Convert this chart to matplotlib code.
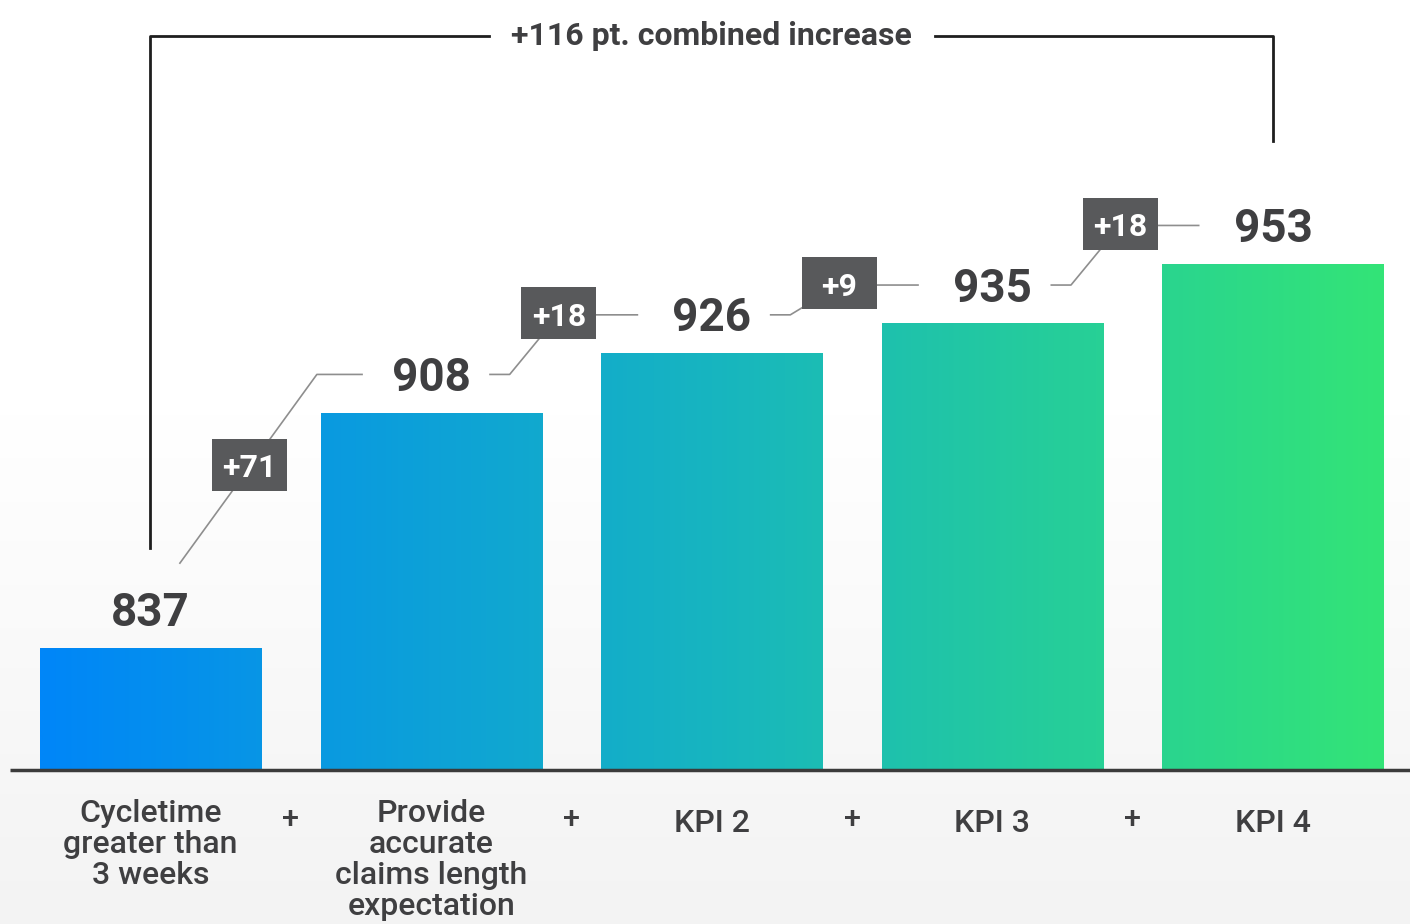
import numpy as np
import matplotlib.pyplot as plt
from matplotlib.colors import LinearSegmentedColormap
from matplotlib.patches import Rectangle

categories = ["Cycletime\ngreater than\n3 weeks",
              "Provide\naccurate\nclaims length\nexpectation",
              "KPI 2", "KPI 3", "KPI 4"]
scores = [837, 908, 926, 935, 953]
deltas = ["+71", "+18", "+9", "+18"]
total_label = "+116 pt. combined increase"
base = 800

plt.rcParams['font.family'] = ['Roboto', 'DejaVu Sans']
txt_color = '#3f3f41'

fig = plt.figure(figsize=(14.1, 9.24), dpi=100)
ax = fig.add_axes([0, 0, 1, 1])
ax.set_axis_off()
x0, x1 = -0.536, 4.488
y0, y1 = 753.5, 1032.6

# soft background: white in the upper half, fading to light grey at the bottom
bg = np.linspace(1, 0, 256).reshape(-1, 1)
bg_cmap = LinearSegmentedColormap.from_list(
    'bg', [(0, '#ffffff'), (0.45, '#ffffff'), (1, '#f3f3f3')])
ax.imshow(bg, cmap=bg_cmap, extent=[x0, x1, y0, y1], origin='lower',
          aspect='auto', zorder=0)

# bars with one horizontal gradient running across all of them
xs = np.arange(len(scores))
width = 0.788
bars = ax.bar(xs, [s - base for s in scores], bottom=base, width=width,
              color='none', linewidth=0, zorder=2)
grad = np.linspace(0, 1, 512).reshape(1, -1)
bar_cmap = LinearSegmentedColormap.from_list('bars', ['#0086f8', '#17b5c0', '#33e477'])
gx0, gx1 = xs[0] - width / 2, xs[-1] + width / 2
for b in bars:
    im = ax.imshow(grad, cmap=bar_cmap, extent=[gx0, gx1, base, max(scores)],
                   origin='lower', aspect='auto', zorder=2)
    im.set_clip_path(b)

# baseline
ax.plot([gx0 - 0.105, x1], [base, base], color='#3b3b3b', lw=2.5, zorder=3,
        solid_capstyle='butt')

# value labels
for i, s in enumerate(scores):
    ax.text(i, s + 6.5, str(s), ha='center', va='baseline', fontsize=33,
            fontweight='bold', color=txt_color, zorder=4)

# delta connectors and boxes
lift = 11.5
bw, bh = 0.267, 15.7
for i, d in enumerate(deltas):
    lo = scores[i] + lift
    hi = scores[i + 1] + lift
    if i == 0:
        px = [i + 0.105, i + 0.593, i + 0.754]
        py = [scores[i] + 25.5, hi, hi]
        bx, by = i + 0.353, (py[0] + hi) / 2 + 1.2
    else:
        px = [i + 0.21, i + 0.28, i + 0.455, i + 0.735]
        py = [lo, lo, hi, hi]
        bx, by = i + 0.455, hi + 0.5
    ax.plot(px, py, color='#8e8e8e', lw=1.2, zorder=3)
    ax.add_patch(Rectangle((bx - bw / 2, by - bh / 2), bw, bh,
                           facecolor='#58595b', edgecolor='none', zorder=5))
    ax.text(bx, by - 3.8, d, ha='center', va='baseline', fontsize=23,
            fontweight='bold', color='white', zorder=6)

# combined-increase bracket, with a gap around its label
top = 1021.8
title = ax.text(2, top, total_label, ha='center', va='center', fontsize=23,
                fontweight='bold', color=txt_color, zorder=4)
fig.canvas.draw()
tb = title.get_window_extent().transformed(ax.transData.inverted())
gap = 0.08
ax.plot([0, 0, tb.x0 - gap], [scores[0] + 30, top, top],
        color='#1e1e1e', lw=2, zorder=3)
ax.plot([tb.x1 + gap, 4, 4], [top, top, scores[-1] + 37],
        color='#1e1e1e', lw=2, zorder=3)

# category labels and plus signs
for i, lab in enumerate(categories):
    y_top = 791.3 if '\n' in lab else 788.3
    ax.text(i, y_top, lab, ha='center', va='top', fontsize=23, fontweight='medium',
            color=txt_color, linespacing=1.09, zorder=4)
for i in range(len(categories) - 1):
    ax.text(i + 0.5, 785, '+', ha='center', va='center', fontsize=22,
            fontweight='medium', color=txt_color, zorder=4)

ax.set_xlim(x0, x1)
ax.set_ylim(y0, y1)
fig.savefig('out.png', dpi=100)
